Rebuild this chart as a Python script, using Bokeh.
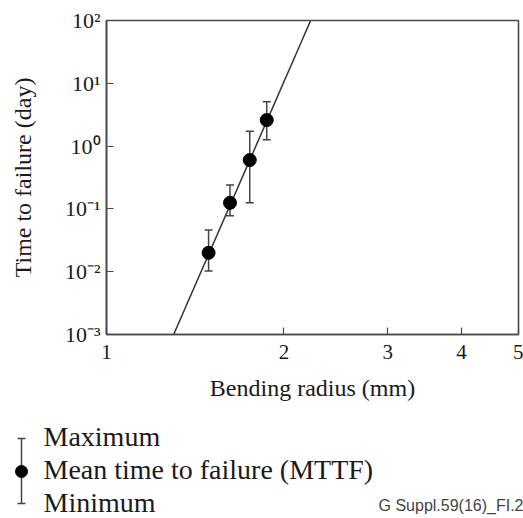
from bokeh.plotting import figure
from bokeh.models import Range1d, FixedTicker, CustomJSTickFormatter, Whisker, TeeHead, ColumnDataSource
from bokeh.layouts import column
from bokeh.embed import file_html
from bokeh.resources import INLINE
from bokeh.core.properties import value

# ---- data ----
radius_mm = [1.49, 1.62, 1.75, 1.87]
mttf_day = [0.020, 0.125, 0.60, 2.6]
max_day = [0.046, 0.24, 1.72, 5.1]
min_day = [0.0103, 0.078, 0.125, 1.26]

fit_radius = [1.30, 2.22]
fit_day = [1e-3, 1e2]

x_ticks = [1, 2, 3, 4, 5]
x_tick_labels = ["1", "2", "3", "4", "5"]
y_ticks = [1e-3, 1e-2, 1e-1, 1e0, 1e1, 1e2]
y_tick_labels = ["10\u207b\u00b3", "10\u207b\u00b2", "10\u207b\u00b9", "10\u2070", "10\u00b9", "10\u00b2"]

legend_labels = ["Maximum", "Mean time to failure (MTTF)", "Minimum"]
figure_id = "G Suppl.59(16)_FI.2"

SERIF = "Liberation Serif"
SANS = "Liberation Sans"
INK = "#1a1a1a"
FRAME = "#4a4a4a"

# ---- main plot ----
p = figure(width=523, height=408, x_axis_type="log", y_axis_type="log",
           x_range=Range1d(1, 5), y_range=Range1d(1e-3, 1e2),
           output_backend="svg", toolbar_location=None,
           min_border_left=106, min_border_right=5, min_border_top=20, min_border_bottom=74,
           x_axis_label="Bending radius (mm)", y_axis_label="Time to failure (day)")
p.grid.visible = False
p.outline_line_color = FRAME
p.outline_line_width = 1.6
p.background_fill_color = "white"
p.border_fill_color = "white"

p.xaxis.ticker = FixedTicker(ticks=x_ticks, minor_ticks=[])
p.xaxis.major_label_overrides = {t: l for t, l in zip(x_ticks, x_tick_labels)}
p.yaxis.ticker = FixedTicker(ticks=y_ticks, minor_ticks=[])
p.yaxis.formatter = CustomJSTickFormatter(args=dict(tvals=y_ticks, tlabels=y_tick_labels), code="""
const lt = Math.log10(tick);
for (let i = 0; i < tvals.length; i++) {
  if (Math.abs(Math.log10(tvals[i]) - lt) < 1e-6) return tlabels[i];
}
return "";
""")

for ax in (p.xaxis, p.yaxis):
    ax.axis_line_color = FRAME
    ax.axis_line_width = 1.6
    ax.major_tick_line_color = FRAME
    ax.major_tick_line_width = 1.2
    ax.major_tick_in = 7
    ax.major_tick_out = 0
    ax.minor_tick_in = 0
    ax.minor_tick_out = 0
    ax.major_label_text_font = SERIF
    ax.major_label_text_color = INK
    ax.axis_label_text_font = SERIF
    ax.axis_label_text_font_size = "24px"
    ax.axis_label_text_font_style = "normal"
    ax.axis_label_text_color = INK

p.xaxis.major_label_text_font_size = "21px"
p.yaxis.major_label_text_font_size = "22px"
p.xaxis.major_label_standoff = 10
p.xaxis.axis_label_standoff = 13
p.yaxis.major_label_standoff = 6
p.yaxis.axis_label_standoff = 26

p.line(fit_radius, fit_day, line_color="#333333", line_width=1.5)

src = ColumnDataSource(dict(x=radius_mm, y=mttf_day, upper=max_day, lower=min_day))
wh = Whisker(source=src, base="x", upper="upper", lower="lower", dimension="height",
             line_color="#444444", line_width=1.5,
             upper_head=TeeHead(size=8, line_color="#444444", line_width=1.5),
             lower_head=TeeHead(size=8, line_color="#444444", line_width=1.5))
p.add_layout(wh)
p.scatter("x", "y", source=src, size=13, marker="circle", fill_color="black", line_color="black")

# ---- legend key below ----
k = figure(width=523, height=110, x_range=Range1d(0, 523), y_range=Range1d(110, 0),
           output_backend="svg", toolbar_location=None, min_border=0,
           min_border_left=0, min_border_right=0, min_border_top=0, min_border_bottom=0,
           x_axis_location=None, y_axis_location=None)
k.grid.visible = False
k.outline_line_color = None

for fig in (p, k):
    try:
        fig.frame_align = False
    except Exception:
        pass

k.segment(x0=[21, 17, 17], y0=[30, 30, 95], x1=[21, 25, 25], y1=[95, 30, 95],
          line_color="#444444", line_width=1.5)
k.scatter(x=[21], y=[63], size=12, marker="circle", fill_color="black", line_color="black")
k.text(x=[43, 43, 43], y=[28, 61, 94], text=legend_labels, text_font=value(SERIF),
       text_font_size="28px", text_baseline="alphabetic", text_align="left", text_color=INK)
k.text(x=[523], y=[97], text=[figure_id], text_font=value(SANS), text_font_size="16px",
       text_baseline="alphabetic", text_align="right", text_color="#444444")

layout = column(p, k)
open("out.html", "w").write(file_html(layout, INLINE))
